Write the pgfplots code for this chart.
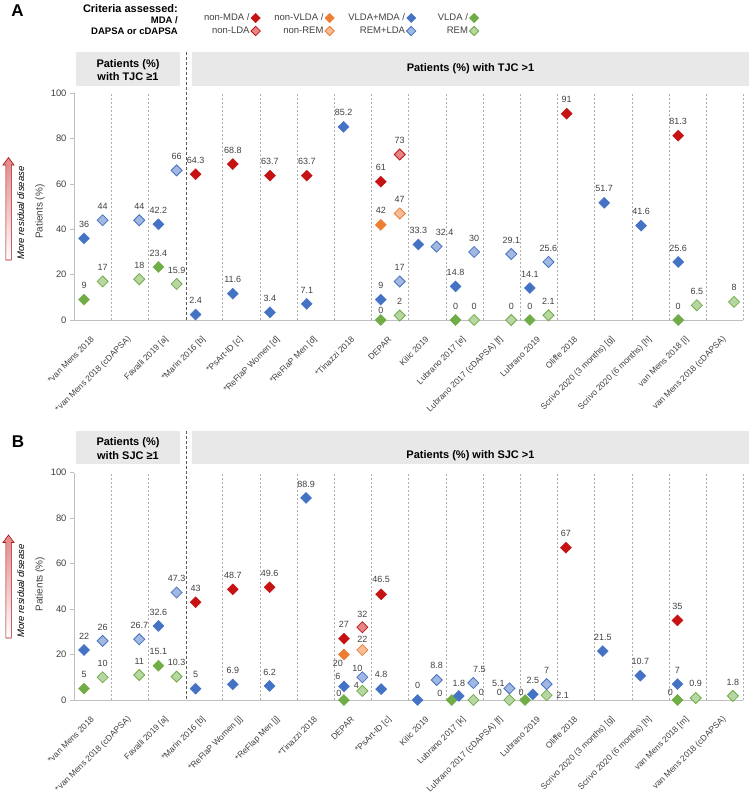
\documentclass[border=0pt]{standalone}
\usepackage{pgfplots}
\pgfplotsset{compat=1.18}
\usepackage{pgfplotstable}
\usepackage{fontspec}
\setmainfont{Liberation Sans}
\definecolor{cR}{RGB}{198,18,18}
\definecolor{cO}{RGB}{237,125,49}
\definecolor{cB}{RGB}{68,114,196}
\definecolor{cG}{RGB}{112,173,71}
\definecolor{txt}{RGB}{64,64,64}

% ===== Panel A (TJC) : one table per series; columns x y lab dx dy =====
\pgfplotstableread{
x y lab dx dy
3.27 64.3 64.3 0 14
4.27 68.8 68.8 0 14
5.27 63.7 63.7 0 14
6.26 63.7 63.7 0 14
8.25 61 61 0 14
13.25 91 91 0 14
16.25 81.3 81.3 0 14
}\tAr
\pgfplotstableread{
x y lab dx dy
8.76 73 73 0 14
}\tArl
\pgfplotstableread{
x y lab dx dy
8.25 42 42 0 14
}\tAo
\pgfplotstableread{
x y lab dx dy
8.76 47 47 0 14
}\tAol
\pgfplotstableread{
x y lab dx dy
0.27 36 36 0 14
2.27 42.2 42.2 0 14
3.27 2.4 2.4 0 14
4.27 11.6 11.6 0 14
5.27 3.4 3.4 0 14
6.26 7.1 7.1 0 14
7.25 85.2 85.2 0 14
8.25 9 9 0 14
9.26 33.3 33.3 0 14
10.26 14.8 14.8 0 14
12.26 14.1 14.1 0 14
14.26 51.7 51.7 0 14
15.25 41.6 41.6 0 14
16.25 25.6 25.6 0 14
}\tAb
\pgfplotstableread{
x y lab dx dy
0.77 44 44 0 14
1.755 44 44 0 14
2.76 66 66 0 14
8.76 17 17 0 14
9.75 32.4 32.4 8 14
10.76 30 30 0 14
11.76 29.1 29.1 0 14
12.76 25.6 25.6 0 14
}\tAbl
\pgfplotstableread{
x y lab dx dy
0.27 9 9 0 14
2.27 23.4 23.4 0 14
8.25 0 0 0 10
10.26 0 0 0 14
12.26 0 0 0 14
16.25 0 0 0 14
}\tAg
\pgfplotstableread{
x y lab dx dy
0.77 17 17 0 14
1.755 18 18 0 14
2.76 15.9 15.9 0 14
8.76 2 2 0 14
10.76 0 0 0 14
11.76 0 0 0 14
12.76 2.1 2.1 0 14
16.75 6.5 6.5 0 14
17.75 8 8 0 14
}\tAgl

% ===== Panel B (SJC) =====
\pgfplotstableread{
x y lab dx dy
3.27 43 43 0 14
4.27 48.7 48.7 0 14
5.26 49.6 49.6 0 14
7.26 27 27 0 14
8.26 46.5 46.5 0 15
13.23 67 67 0 14
16.23 35 35 0 14
}\tBr
\pgfplotstableread{
x y lab dx dy
7.755 32 32 0 13
}\tBrl
\pgfplotstableread{
x y lab dx dy
7.26 20 20 -6 -9
}\tBo
\pgfplotstableread{
x y lab dx dy
7.755 22 22 0 11
}\tBol
\pgfplotstableread{
x y lab dx dy
0.27 22 22 0 14
2.27 32.6 32.6 0 14
3.27 5 5 0 14
4.27 6.9 6.9 0 14
5.26 6.2 6.2 0 14
6.24 88.9 88.9 0 14
7.26 6 6 -6 10
8.26 4.8 4.8 0 15
9.24 0 0 0 15
10.35 1.8 1.8 0 13
12.34 2.5 2.5 0 14
14.22 21.5 21.5 0 14
15.23 10.7 10.7 0 14
16.23 7 7 0 14
}\tBb
\pgfplotstableread{
x y lab dx dy
0.77 26 26 0 14
1.755 26.7 26.7 0 14
2.76 47.3 47.3 0 14
7.755 10 10 -5 9
9.755 8.8 8.8 0 15
10.74 7.5 7.5 6 14
11.71 5.1 5.1 -11 5
12.71 7 7 0 14
}\tBbl
\pgfplotstableread{
x y lab dx dy
0.27 5 5 0 14
2.27 15.1 15.1 0 14
7.26 0 0 -5 7
10.16 0 0 -12 7
12.13 0 0 -4 8
16.23 0 0 -7 8
}\tBg
\pgfplotstableread{
x y lab dx dy
0.77 10 10 0 14
1.755 11 11 0 14
2.76 10.3 10.3 0 14
7.755 4 4 -6 6
10.74 0 0 8 8
11.71 0 0 -10 8
12.71 2.1 2.1 16 0
16.72 0.9 0.9 0 15
17.72 1.8 1.8 0 14
}\tBgl

\pgfplotsset{
  base/.style={
    scale only axis, width=669.3pt,
    xmin=0, xmax=18, ymin=0, ymax=100, clip=false,
    axis lines=left, axis line style={-, draw=gray!50, line width=0.6pt},
    xtick={0.5,1.5,...,17.5},
    minor xtick={1,2,4,5,6,7,8,9,10,11,12,13,14,15,16,17,18},
    xminorgrids=true,
    minor grid style={gray!65, dash pattern=on 2.2pt off 1.8pt, line width=0.5pt},
    major x tick style={draw=none}, minor tick length=0pt,
    ytick={0,20,...,100}, tick align=outside, major tick length=4pt,
    y tick style={gray!50, line width=0.6pt},
    /pgf/number format/assume math mode=true,
    yticklabel style={font=\fontsize{9.4}{10}\selectfont, text=txt},
    xticklabel style={rotate=45, anchor=east, font=\fontsize{8.5}{9}\selectfont, text=txt, inner sep=0pt},
    xticklabel shift=14pt,
  },
  pts/.style={
    only marks, mark=square*, mark size=3.9pt,
    point meta=explicit symbolic,
    visualization depends on={\thisrow{dx}\as\mydx},
    visualization depends on={\thisrow{dy}\as\mydy},
    nodes near coords,
    every node near coord/.append style={font=\fontsize{9}{10}\selectfont, text=txt, anchor=center, inner sep=0pt, xshift=\mydx, yshift=\mydy},
    forget plot,
  },
  sR/.style={mark options={rotate=45, fill=cR, draw=cR}},
  sRl/.style={mark options={rotate=45, fill=cR!50!white, draw=cR, line width=0.8pt}},
  sO/.style={mark options={rotate=45, fill=cO, draw=cO}},
  sOl/.style={mark options={rotate=45, fill=cO!50!white, draw=cO, line width=0.8pt}},
  sB/.style={mark options={rotate=45, fill=cB, draw=cB}},
  sBl/.style={mark options={rotate=45, fill=cB!50!white, draw=cB, line width=0.8pt}},
  sG/.style={mark options={rotate=45, fill=cG, draw=cG}},
  sGl/.style={mark options={rotate=45, fill=cG!50!white, draw=cG, line width=0.8pt}},
}

\begin{document}
\begin{tikzpicture}
\useasboundingbox (0,0) rectangle (755pt,-799pt);

% ---------- Panel A decorations ----------
\node[font=\fontsize{17}{17}\selectfont\bfseries] at (17.5pt,-11pt) {A};
\node[anchor=east, inner sep=0pt, font=\fontsize{11}{12}\selectfont\bfseries] at (178pt,-8.5pt) {Criteria assessed:};
\node[anchor=east, inner sep=0pt, font=\fontsize{9.5}{10}\selectfont\bfseries] at (178pt,-20.5pt) {MDA /};
\node[anchor=east, inner sep=0pt, font=\fontsize{9.5}{10}\selectfont\bfseries] at (178pt,-31.5pt) {DAPSA or cDAPSA};
\fill[gray!18] (76pt,-52pt) rectangle (180pt,-86pt);
\fill[gray!18] (191.7pt,-52pt) rectangle (749.3pt,-86pt);
\node[align=center, font=\fontsize{11}{13.4}\selectfont\bfseries] at (128pt,-70pt) {Patients (\%)\\with TJC ≥1};
\node[font=\fontsize{11}{12}\selectfont\bfseries] at (470.5pt,-69pt) {Patients (\%) with TJC >1};
\shade[top color=cR!50, bottom color=white, draw=cR!85!black, line width=0.6pt] (8.5pt,-157.5pt) -- (14pt,-165pt) -- (11.3pt,-165pt) -- (11.3pt,-260pt) -- (5.8pt,-260pt) -- (5.8pt,-165pt) -- (3pt,-165pt) -- cycle;
\node[rotate=90, font=\fontsize{9.5}{10}\selectfont\itshape] at (20.7pt,-213pt) {More residual disease};
\node[rotate=90, font=\fontsize{10}{11}\selectfont, text=txt] at (40pt,-211.7pt) {Patients (\%)};

\begin{axis}[base, at={(74pt,-320pt)}, anchor=south west, height=226.7pt,
  xticklabels={{*van Mens 2018},{*van Mens 2018 (cDAPSA)},{Favalli 2019 [a]},{*Marin 2016 [b]},{*PsArt-ID [c]},{*ReFlaP Women [d]},{*ReFlaP Men [d]},{*Tinazzi 2018},{DEPAR},{Kilic 2019},{Lubrano 2017 [e]},{Lubrano 2017 (cDAPSA) [f]},{Lubrano 2019},{Oliffe 2018},{Scrivo 2020 (3 months) [g]},{Scrivo 2020 (6 months) [h]},{van Mens 2018 [i]},{van Mens 2018 (cDAPSA)}},
  legend columns=4, legend plot pos=right, legend cell align=right,
  legend image code/.code={\draw[#1] plot coordinates {(0pt,0pt)};},
  legend style={draw=none, fill=none, at={(0.6096,1.367)}, anchor=north east,
    font=\fontsize{9.5}{11}\selectfont, text=txt, nodes={inner sep=1.5pt}, row sep=1.8pt,
    /tikz/every even column/.append style={column sep=12.5pt}},
]
\addlegendimage{only marks, mark=square*, mark size=3.3pt, sR}
\addlegendentry{non-MDA /}
\addlegendimage{only marks, mark=square*, mark size=3.3pt, sO}
\addlegendentry{non-VLDA /}
\addlegendimage{only marks, mark=square*, mark size=3.3pt, sB}
\addlegendentry{VLDA+MDA /}
\addlegendimage{only marks, mark=square*, mark size=3.3pt, sG}
\addlegendentry{\hspace*{8pt}VLDA /}
\addlegendimage{only marks, mark=square*, mark size=3.3pt, sRl}
\addlegendentry{non-LDA}
\addlegendimage{only marks, mark=square*, mark size=3.3pt, sOl}
\addlegendentry{non-REM}
\addlegendimage{only marks, mark=square*, mark size=3.3pt, sBl}
\addlegendentry{REM+LDA}
\addlegendimage{only marks, mark=square*, mark size=3.3pt, sGl}
\addlegendentry{REM}
\addplot[pts, sG] table[x=x, y=y, meta=lab] {\tAg};
\addplot[pts, sGl] table[x=x, y=y, meta=lab] {\tAgl};
\addplot[pts, sB] table[x=x, y=y, meta=lab] {\tAb};
\addplot[pts, sBl] table[x=x, y=y, meta=lab] {\tAbl};
\addplot[pts, sO] table[x=x, y=y, meta=lab] {\tAo};
\addplot[pts, sOl] table[x=x, y=y, meta=lab] {\tAol};
\addplot[pts, sR] table[x=x, y=y, meta=lab] {\tAr};
\addplot[pts, sRl] table[x=x, y=y, meta=lab] {\tArl};
\end{axis}
\draw[black!65, line width=1pt, dash pattern=on 3pt off 2pt] (186pt,-52pt) -- (186pt,-320pt);

% ---------- Panel B decorations ----------
\node[font=\fontsize{17}{17}\selectfont\bfseries] at (18pt,-441.5pt) {B};
\fill[gray!18] (76pt,-431pt) rectangle (180pt,-464.3pt);
\fill[gray!18] (191.7pt,-431pt) rectangle (749.3pt,-464.3pt);
\node[align=center, font=\fontsize{11}{13.4}\selectfont\bfseries] at (128pt,-448.5pt) {Patients (\%)\\with SJC ≥1};
\node[font=\fontsize{11}{12}\selectfont\bfseries] at (470.5pt,-456pt) {Patients (\%) with SJC >1};
\shade[top color=cR!50, bottom color=white, draw=cR!85!black, line width=0.6pt] (8.5pt,-535pt) -- (14pt,-542.5pt) -- (11.3pt,-542.5pt) -- (11.3pt,-638pt) -- (5.8pt,-638pt) -- (5.8pt,-542.5pt) -- (3pt,-542.5pt) -- cycle;
\node[rotate=90, font=\fontsize{9.5}{10}\selectfont\itshape] at (20.7pt,-591pt) {More residual disease};
\node[rotate=90, font=\fontsize{10}{11}\selectfont, text=txt] at (40pt,-584pt) {Patients (\%)};

\begin{axis}[base, at={(74pt,-700pt)}, anchor=south west, height=227.3pt,
  xticklabels={{*van Mens 2018},{*van Mens 2018 (cDAPSA)},{Favalli 2019 [a]},{*Marin 2016 [b]},{*ReFlaP Women [j]},{*ReFlap Men [j]},{*Tinazzi 2018},{DEPAR},{*PsArt-ID [c]},{Kilic 2019},{Lubrano 2017 [k]},{Lubrano 2017 (cDAPSA) [f]},{Lubrano 2019},{Oliffe 2018},{Scrivo 2020 (3 months) [g]},{Scrivo 2020 (6 months) [h]},{van Mens 2018 [m]},{van Mens 2018 (cDAPSA)}},
]
\addplot[pts, sG] table[x=x, y=y, meta=lab] {\tBg};
\addplot[pts, sGl] table[x=x, y=y, meta=lab] {\tBgl};
\addplot[pts, sB] table[x=x, y=y, meta=lab] {\tBb};
\addplot[pts, sBl] table[x=x, y=y, meta=lab] {\tBbl};
\addplot[pts, sO] table[x=x, y=y, meta=lab] {\tBo};
\addplot[pts, sOl] table[x=x, y=y, meta=lab] {\tBol};
\addplot[pts, sR] table[x=x, y=y, meta=lab] {\tBr};
\addplot[pts, sRl] table[x=x, y=y, meta=lab] {\tBrl};
\end{axis}
\draw[black!65, line width=1pt, dash pattern=on 3pt off 2pt] (186pt,-431pt) -- (186pt,-700pt);
\end{tikzpicture}
\end{document}
